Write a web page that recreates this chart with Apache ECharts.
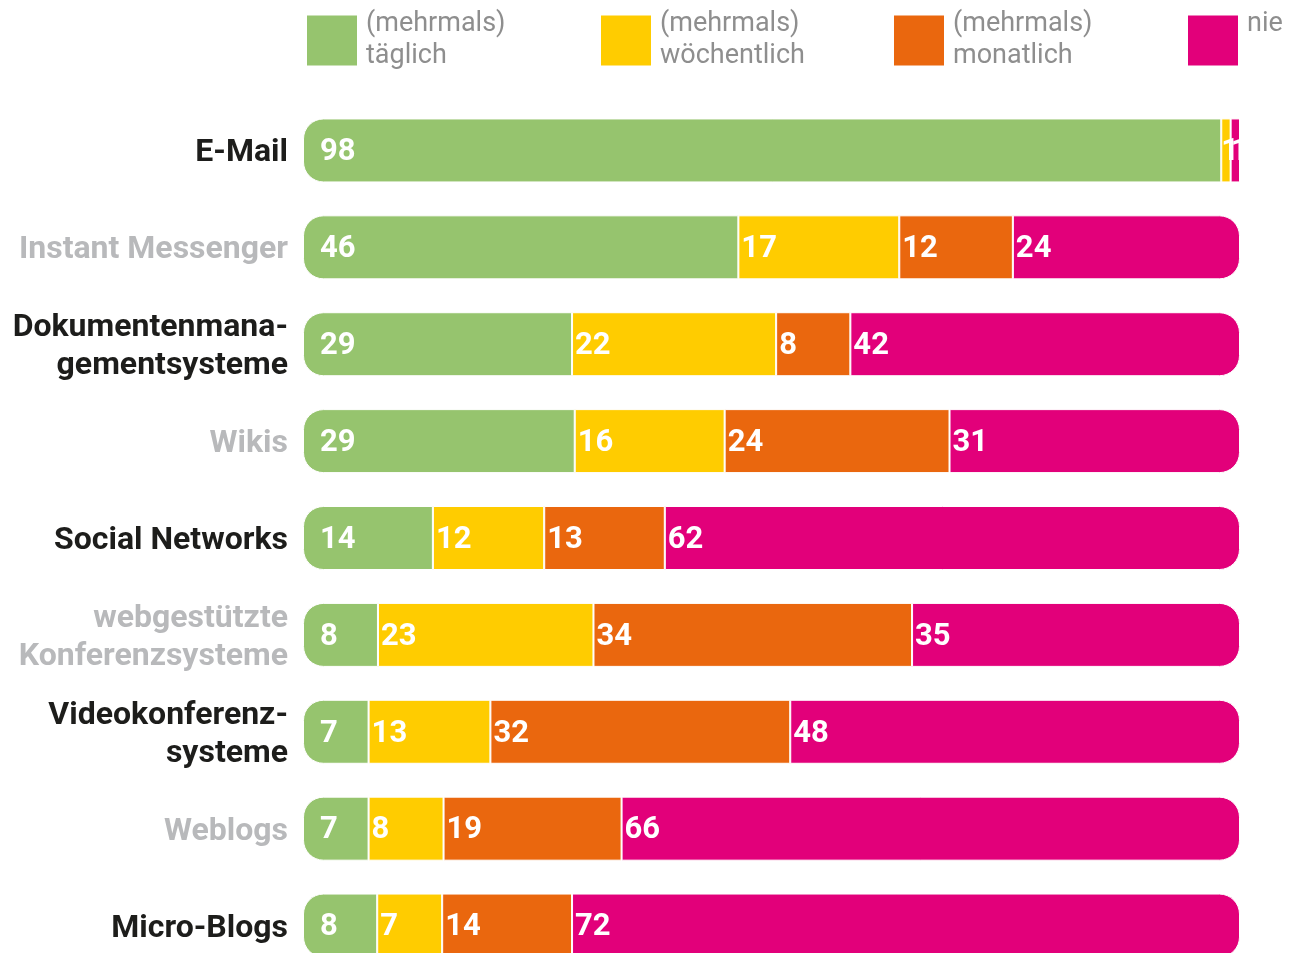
<!DOCTYPE html>
<html>
<head>
<meta charset="utf-8">
<script src="https://cdn.jsdelivr.net/npm/echarts@6/dist/echarts.min.js"></script>
<style>
  html, body { margin: 0; padding: 0; background: #fff; }
  #chart { width: 1293px; height: 953px; }
</style>
</head>
<body>
<div id="chart"></div>
<script>
// Kategorien von oben nach unten
const categories = [
  'E-Mail',
  'Instant Messenger',
  'Dokumentenmana-\ngementsysteme',
  'Wikis',
  'Social Networks',
  'webgestützte\nKonferenzsysteme',
  'Videokonferenz-\nsysteme',
  'Weblogs',
  'Micro-Blogs'
]

const seriesNames = ['täglich', 'wöchentlich', 'monatlich', 'nie']
const legendTexts = ['(mehrmals)\ntäglich', '(mehrmals)\nwöchentlich', '(mehrmals)\nmonatlich', 'nie\n ']
const colors = ['#96c46e', '#ffcc00', '#ea670e', '#e2007a']

// Prozentwerte (gerundet, wie beschriftet)
const taeglich = [98, 46, 29, 29, 14, 8, 7, 7, 8]
const woechentlich = [1, 17, 22, 16, 12, 23, 13, 8, 7]
const monatlich = [0, 12, 8, 24, 13, 34, 32, 19, 14]
const nie = [1, 24, 42, 31, 62, 35, 48, 66, 72]

const values = [taeglich, woechentlich, monatlich, nie]
// Zeilensumme, damit jeder Balken bis 100 reicht
const rowTotals = categories.map((c, i) => values.reduce((s, arr) => s + arr[i], 0))

const legendLeft = [302, 596, 889, 1183]

const chart = echarts.init(document.getElementById('chart'))

const series = values.map((arr, si) => {
  const radius = si === 0 ? [20, 0, 0, 20] : si === 3 ? [0, 20, 20, 0] : 0
  return {
    name: seriesNames[si],
    type: 'bar',
    stack: 'total',
    barWidth: 64,
    data: arr.map((v, i) => {
      const item = { value: v * 100 / rowTotals[i], raw: v }
      // winzige Segmente ohne Rundung
      if (si === 3 && v < 5) item.itemStyle = { borderRadius: 0 }
      if (v < 5 && si > 0) item.label = { distance: 0 }
      return item
    }),
    itemStyle: {
      color: colors[si],
      borderColor: '#fff',
      borderWidth: 1,
      borderRadius: radius
    },
    label: {
      show: true,
      position: 'insideLeft',
      distance: si === 0 ? 17 : 3,
      offset: [0, 2],
      color: '#fff',
      fontFamily: 'Roboto',
      fontWeight: 'bold',
      fontSize: 31,
      formatter: (p) => (p.data.raw ? String(p.data.raw) : '')
    },
    emphasis: { disabled: true }
  }
})

const option = {
  backgroundColor: '#fff',
  animation: false,
  legend: seriesNames.map((name, i) => ({
    data: [name],
    left: legendLeft[i],
    top: 2,
    icon: 'rect',
    itemWidth: 50,
    itemHeight: 50,
    itemStyle: { borderWidth: 0 },
    selectedMode: false,
    formatter: () => legendTexts[i],
    textStyle: {
      color: '#8e8e8e',
      fontFamily: 'Roboto',
      fontSize: 27,
      lineHeight: 32,
      padding: [3, 0, 0, 4]
    }
  })),
  grid: {
    left: 303,
    right: 53,
    top: 102,
    height: 872,
    outerBoundsMode: 'none'
  },
  xAxis: {
    type: 'value',
    min: 0,
    max: 100,
    show: false
  },
  yAxis: {
    type: 'category',
    data: categories,
    inverse: true,
    axisLine: { show: false },
    axisTick: { show: false },
    splitLine: { show: false },
    axisLabel: {
      margin: 15,
      padding: [6, 0, 0, 0],
      formatter: (value, index) => {
        const tag = index % 2 === 0 ? 'd' : 'l'
        return value.split('\n').map((line) => `{${tag}|${line}}`).join('\n')
      },
      rich: {
        d: {
          color: '#1d1d1b',
          fontFamily: 'Roboto',
          fontWeight: 'bold',
          fontSize: 32,
          lineHeight: 38
        },
        l: {
          color: '#b8b9bb',
          fontFamily: 'Roboto',
          fontWeight: 'bold',
          fontSize: 32,
          lineHeight: 38
        }
      }
    }
  },
  series: series
}

chart.setOption(option)
</script>
</body>
</html>
